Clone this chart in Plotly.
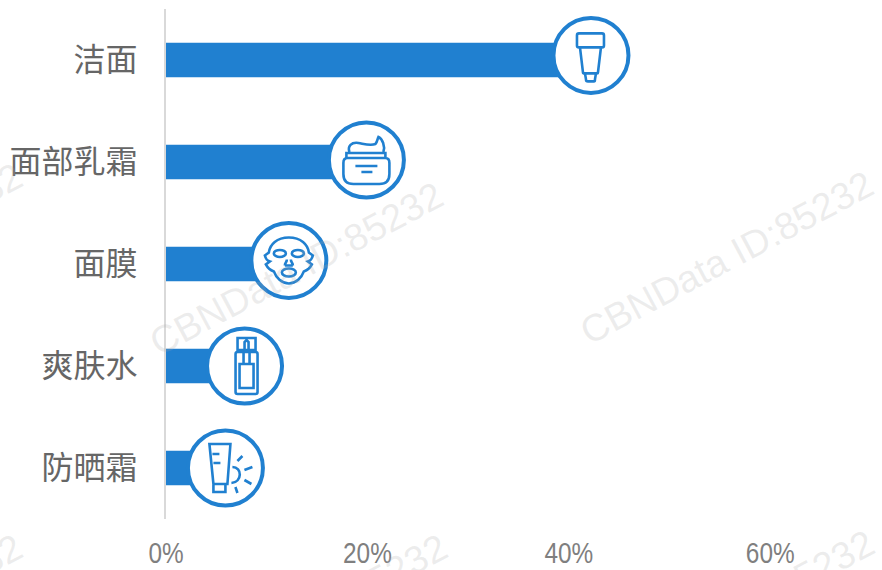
import re
import plotly.graph_objects as go

categories = ["洁面", "面部乳霜", "面膜", "爽肤水", "防晒霜"]
values = [42.2, 19.9, 12.2, 7.8, 5.9]
bar_rows = [0, 1, 2, 3, 4]
circle_rows = [-0.045, 0.98, 1.965, 3, 4]
x_ticks = [0, 20, 40, 60]
x_tick_labels = ["0%", "20%", "40%", "60%"]
watermark_text = "CBNData ID:85232"

BLUE = "#2080d0"


def ell(cx, cy, rx, ry):
    k = 0.55
    return (f"M{cx-rx},{cy} C{cx-rx},{cy-k*ry} {cx-k*rx},{cy-ry} {cx},{cy-ry} "
            f"C{cx+k*rx},{cy-ry} {cx+rx},{cy-k*ry} {cx+rx},{cy} "
            f"C{cx+rx},{cy+k*ry} {cx+k*rx},{cy+ry} {cx},{cy+ry} "
            f"C{cx-k*rx},{cy+ry} {cx-rx},{cy+k*ry} {cx-rx},{cy} Z")


# Icon glyphs, drawn relative to the centre of each circle (y downward)
icons = [
    # tube
    "M-12,-22 L11,-22 Q13,-22 13,-20 L13,-10 Q13,-8 11,-8 L-12,-8 Q-14,-8 -14,-10 L-14,-20 Q-14,-22 -12,-22 Z "
    "M-11,-8 L-8,17 Q-8,18 -6,18 L6,18 Q7,18 7,17 L10,-8 "
    "M-6,18 L-5,24 Q-5,26 -3,26 L3,26 Q4,26 4,24 L5,18",
    # jar
    "M-23,3 Q-23,-2 -19,-2 L19,-2 Q23,-2 23,3 L23,14 Q23,24 13,24 L-13,24 Q-23,24 -23,14 Z "
    "M-20,-2 L-20,-7 L19,-7 L19,-2 "
    "M-17,-8 C-19,-14 -15,-18 -8,-17 C-2,-16 4,-14 9,-16 C11,-18 11,-21 12,-23 C16,-21 19,-14 17,-8 "
    "M-11,6 L11,6 M-5,12 L6,12",
    # mask
    "M0,-23 C-12,-23 -19,-16 -20,-8 L-24,-5 C-23,-1 -22,0 -19,1 L-23,4 C-21,8 -18,10 -15,11 "
    "C-13,17 -7,23 0,23 C7,23 13,17 15,11 C18,10 21,8 23,4 L19,1 C22,0 23,-1 24,-5 L20,-8 C19,-16 12,-23 0,-23 Z "
    + ell(-9, -7, 6, 3.5) + " " + ell(9, -7, 6, 3.5) + " "
    "M-4,5 C-4,2 -2,2 -2,-1 M4,5 C4,2 2,2 2,-1 M-4,5 L4,5 "
    + ell(0, 12, 7, 4),
    # toner bottle
    "M-7,-28 L11,-28 L11,-16 L-7,-16 Z "
    "M-9,-12 Q-9,-14 -7,-14 L11,-14 Q13,-14 13,-12 L13,26 Q13,28 11,28 L-7,28 Q-9,28 -9,26 Z "
    "M-5,-2 L9,-2 L9,22 L-5,22 Z "
    "M0,-14 L0,-24 L2,-26 L4,-24 L4,-14 M-1,-2 L-1,-14 M5,-2 L5,-14",
    # sunscreen
    "M-16,-24 L5,-24 L2,16 L-12,16 Z "
    "M-12,17 L-12,24 L0,24 L0,17 "
    "M-13,-14 L-6,-14 M-12,-5 L-5,-5 "
    "M7,-1 C17,-1 17,14 6,15 "
    "M12,-7 L17,-12 M19,2 L27,-1 M19,12 L26,16 M10,19 L12,25",
]


def flip(path):
    return re.sub(r"(-?\d+\.?\d*),(-?\d+\.?\d*)",
                  lambda m: f"{m.group(1)},{-float(m.group(2))}", path)


fig = go.Figure()
fig.add_trace(go.Bar(x=values, y=bar_rows, orientation="h",
                     marker=dict(color=BLUE, line_width=0), width=0.34,
                     hoverinfo="skip"))
fig.add_trace(go.Scatter(x=values, y=circle_rows, mode="markers", cliponaxis=False,
                         marker=dict(size=75, color="white",
                                     line=dict(color=BLUE, width=4)),
                         hoverinfo="skip"))

for row, val, icon in zip(circle_rows, values, icons):
    fig.add_shape(type="path", path=flip(icon), layer="above",
                  xref="x", yref="y", xsizemode="pixel", ysizemode="pixel",
                  xanchor=val, yanchor=row,
                  line=dict(color=BLUE, width=2.6), fillcolor="rgba(0,0,0,0)")

for wx, wy in [(296, 270), (726, 258), (-125, 250), (300, 622), (727, 618), (-125, 622)]:
    fig.add_annotation(text=watermark_text, xref="paper", yref="paper",
                       x=(wx - 166) / 715, y=(520 - wy) / 511,
                       xanchor="center", yanchor="middle", showarrow=False,
                       textangle=-28,
                       font=dict(family="Liberation Sans", size=38,
                                 color="rgba(170,170,170,0.22)"))

fig.update_layout(
    width=882, height=570, showlegend=False, autosize=False,
    margin=dict(l=166, r=1, t=9, b=44),
    paper_bgcolor="white", plot_bgcolor="white",
    xaxis=dict(range=[0, 71], tickvals=x_ticks, ticktext=x_tick_labels,
               showgrid=False, zeroline=False, showline=False,
               ticks="outside", ticklen=8, tickcolor="rgba(0,0,0,0)",
               tickfont=dict(family="Liberation Sans", size=29, color="#7f7f7f")),
    yaxis=dict(range=[4.5, -0.5], tickvals=bar_rows, ticktext=categories,
               showgrid=False, zeroline=False,
               showline=True, linecolor="#d9d9d9", linewidth=2,
               ticks="outside", ticklen=20, tickcolor="rgba(0,0,0,0)",
               tickfont=dict(family="Noto Sans CJK SC", size=32, color="#666666")),
)

# The page's default body margin would offset the chart; the tick labels of the
# reference use a condensed face, which is reproduced by narrowing the real text.
post = """
document.body.style.margin = '0';
document.querySelectorAll('.xtick text').forEach(function (t) {
  t.setAttribute('textLength', (t.getComputedTextLength() * 0.84).toFixed(1));
  t.setAttribute('lengthAdjust', 'spacingAndGlyphs');
});
"""
fig.write_html("out.html", post_script=post, config={"displayModeBar": False})
